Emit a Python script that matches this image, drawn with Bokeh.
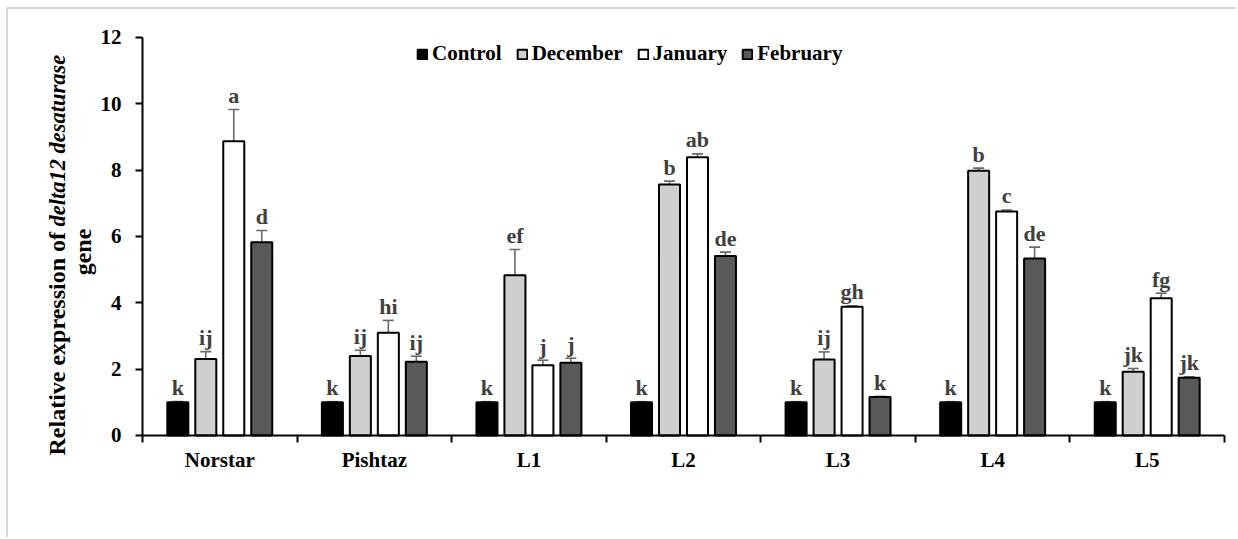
import math
from bokeh.plotting import figure
from bokeh.models import (ColumnDataSource, Range1d, FixedTicker, Whisker, TeeHead,
                          Label, Legend)
from bokeh.core.properties import value
from bokeh.embed import file_html
from bokeh.resources import INLINE

categories = ["Norstar", "Pishtaz", "L1", "L2", "L3", "L4", "L5"]
series_names = ["Control", "December", "January", "February"]

control = [1.00, 1.00, 1.00, 1.00, 1.00, 1.00, 1.00]
december = [2.31, 2.40, 4.83, 7.57, 2.29, 7.98, 1.92]
january = [8.87, 3.10, 2.12, 8.39, 3.88, 6.75, 4.14]
february = [5.83, 2.22, 2.19, 5.41, 1.16, 5.34, 1.74]

control_err = [0.02, 0.02, 0.02, 0.02, 0.02, 0.02, 0.02]
december_err = [0.22, 0.17, 0.78, 0.10, 0.23, 0.08, 0.10]
january_err = [0.96, 0.37, 0.15, 0.10, 0.03, 0.05, 0.15]
february_err = [0.35, 0.17, 0.14, 0.12, 0.02, 0.34, 0.03]

control_letters = ["k", "k", "k", "k", "k", "k", "k"]
december_letters = ["ij", "ij", "ef", "b", "ij", "b", "jk"]
january_letters = ["a", "hi", "j", "ab", "gh", "c", "fg"]
february_letters = ["d", "ij", "j", "de", "k", "de", "jk"]

y_ticks = [0, 2, 4, 6, 8, 10, 12]
y_title_main = "Relative expression of"
y_title_italic = "delta12 desaturase"
y_title_line2 = "gene"

series_values = [control, december, january, february]
series_errors = [control_err, december_err, january_err, february_err]
series_letters = [control_letters, december_letters, january_letters, february_letters]
fill_colors = ["#000000", "#d0cece", "#ffffff", "#595959"]

FONT = "Liberation Serif"
n = len(categories)
y_max = y_ticks[-1]

# The frame fills the whole canvas; axes are pinned at 0 so that the
# rotated y title (drawn as labels) lies inside the frame.
p = figure(width=1230, height=530, output_backend="svg", toolbar_location=None,
           title=None,
           x_range=Range1d(-0.8669, 7.0906), y_range=Range1d(-3.1357, 12.844),
           min_border_left=0, min_border_right=0, min_border_top=0,
           min_border_bottom=0)
p.outline_line_color = None
p.xgrid.visible = False
p.ygrid.visible = False
p.background_fill_color = "white"
p.border_fill_color = "white"
p.styles = {"margin-left": "6px", "margin-top": "7px",
            "border-left": "2px solid #d9d9d9",
            "border-top": "2px solid #d9d9d9"}

offsets = [-0.2715, -0.0905, 0.0905, 0.2715]
bar_w = 0.136

legend_items = []
for k in range(4):
    xs = [i + 0.5 + offsets[k] for i in range(n)]
    vals = series_values[k]
    errs = series_errors[k]
    src = ColumnDataSource(dict(
        x=xs, top=vals,
        upper=[v + e for v, e in zip(vals, errs)],
        lower=[v - e for v, e in zip(vals, errs)],
        lab=series_letters[k],
    ))
    r = p.vbar(x="x", top="top", bottom=0, width=bar_w, source=src,
               fill_color=fill_colors[k], line_color="black", line_width=2)
    legend_items.append((series_names[k], [r]))
    wh = Whisker(base="x", upper="upper", lower="lower", source=src,
                 dimension="height", line_color="#6a6a6a", line_width=1.6,
                 upper_head=TeeHead(size=11, line_color="#6a6a6a", line_width=1.6),
                 lower_head=TeeHead(size=11, line_color="#6a6a6a", line_width=1.6))
    p.add_layout(wh)
    p.text(x="x", y="upper", text="lab", source=src, text_align="center",
           text_baseline="alphabetic", y_offset=-14,
           text_font=value(FONT), text_font_style="bold",
           text_font_size="22px", text_color="#404040")

# axis lines spanning only the category extent and 0..12
p.segment(x0=[0, 0], y0=[0, 0], x1=[n, 0], y1=[0, y_max],
          line_color="black", line_width=2)

legend = Legend(items=legend_items, orientation="horizontal",
                location=(408, 473), padding=0, margin=0, spacing=14,
                glyph_width=12, glyph_height=12, label_standoff=4,
                label_text_font=FONT, label_text_font_style="bold",
                label_text_font_size="21px", label_text_color="black",
                border_line_color=None, background_fill_alpha=0)
p.add_layout(legend)

xa = p.xaxis[0]
xa.fixed_location = 0
xa.ticker = FixedTicker(ticks=[i + 0.5 for i in range(n)],
                        minor_ticks=list(range(n + 1)))
xa.major_label_overrides = {i + 0.5: c for i, c in enumerate(categories)}
xa.axis_line_color = None
xa.major_tick_out = 0
xa.major_tick_in = 0
xa.minor_tick_out = 7
xa.minor_tick_in = 0
xa.minor_tick_line_color = "black"
xa.minor_tick_line_width = 2
xa.major_label_standoff = 6
xa.major_label_text_font = FONT
xa.major_label_text_font_style = "bold"
xa.major_label_text_font_size = "21px"
xa.major_label_text_color = "black"

ya = p.yaxis[0]
ya.fixed_location = 0
ya.ticker = FixedTicker(ticks=y_ticks, minor_ticks=[])
ya.axis_line_color = None
ya.major_tick_out = 7
ya.major_tick_in = 0
ya.major_tick_line_width = 2
ya.major_tick_line_color = "black"
ya.major_label_standoff = 14
ya.major_label_text_font = FONT
ya.major_label_text_font_style = "bold"
ya.major_label_text_font_size = "21px"
ya.major_label_text_color = "black"

# y-axis title: two lines, the gene name in italics
lab_common = dict(angle=math.pi / 2, text_font=FONT,
                  text_color="black", text_baseline="middle")
p.add_layout(Label(x=-0.5499, y=-0.603, text=y_title_main, text_align="left",
                   text_font_style="bold", text_font_size="24px", **lab_common))
p.add_layout(Label(x=-0.5499, y=6.30, text=y_title_italic, text_align="left",
                   text_font_style="bold italic", text_font_size="22.5px", **lab_common))
p.add_layout(Label(x=-0.3817, y=5.533, text=y_title_line2, text_align="center",
                   text_font_style="bold", text_font_size="24px", **lab_common))

open("out.html", "w").write(file_html(p, INLINE))
